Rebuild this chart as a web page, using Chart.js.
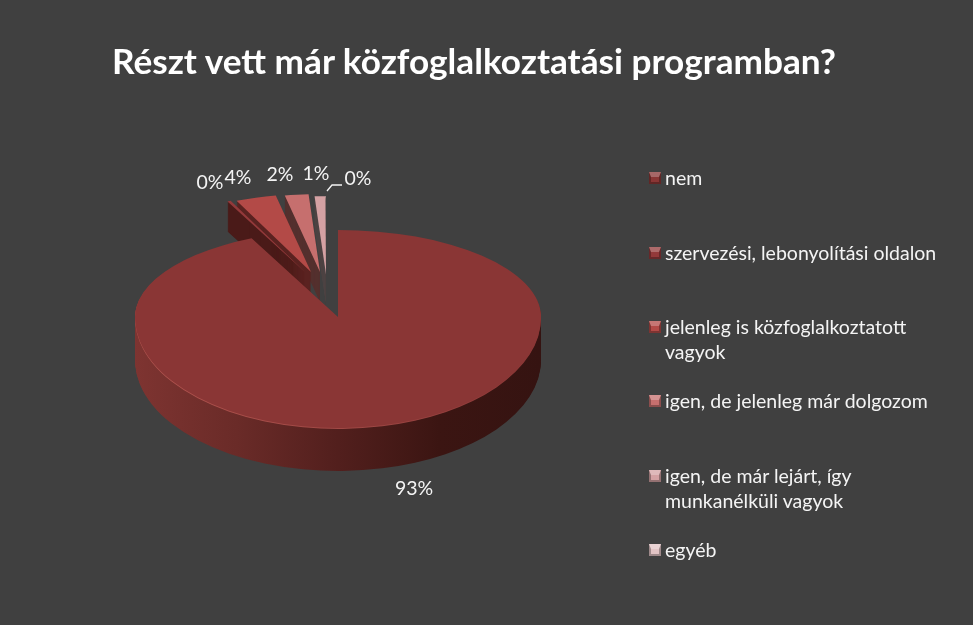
<!DOCTYPE html>
<html lang="hu">
<head>
<meta charset="utf-8">
<title>Részt vett már közfoglalkoztatási programban?</title>
<script src="https://cdn.jsdelivr.net/npm/chart.js@4"></script>
<style>
  html, body { margin: 0; padding: 0; background: #404040; }
  #wrap { position: relative; width: 973px; height: 625px; overflow: hidden; background: #404040; font-family: Lato, "Open Sans", sans-serif; color: #f4f4f4; }
  #chart { position: absolute; left: 0; top: 0; }
  #title { position: absolute; left: 112px; top: 40px; font-size: 35.2px; font-weight: 700; line-height: 40px; white-space: nowrap; color: #fff; }
  .leg { position: absolute; left: 665px; font-size: 19.5px; line-height: 25px; width: 290px; }
  .leg i { position: absolute; left: -16px; top: 7px; width: 12px; height: 12px; box-sizing: border-box; border-style: solid; border-width: 5px 2px 2px; }
</style>
</head>
<body>
<div id="wrap">
  <canvas id="chart" width="973" height="625"></canvas>
  <div id="title">Részt vett már közfoglalkoztatási programban?</div>
</div>
<script>
// ── 데이터 ──────────────────────────────────────────
const categories = [
  "nem",
  "szervezési, lebonyolítási oldalon",
  "jelenleg is közfoglalkoztatott vagyok",
  "igen, de jelenleg már dolgozom",
  "igen, de már lejárt, így munkanélküli vagyok",
  "egyéb",
];
const values = [93, 0.3, 3.6, 2.1, 0.95, 0.05];

const topColors  = ["#8a3635", "#93393a", "#b34a47", "#c66f6e", "#d4a1a3", "#e2c4c5"];
const wallColors = ["#5a2321", "#4a1a18", "#5a2220", "#54302e", "#4e4444", "#484444"];
const legendTops = [165, 240, 314, 388, 463, 537];
const labelSpots = [[210, 183], [238, 178], [280, 175], [316, 174], [358, 179]];
const bigLabelSpot = [414, 489];

// ── 유사 3D 파이 ─────────────────────────────────────
const squashTop = 87 / 203;
const squashBottom = 111 / 203;
const bigRadius = 203;
const smallRadius = 182;
const sliceShift = [[0, 0], [-33, -105], [-27, -105], [-18, -105], [-12, -100], [-12, -100]];
const bigDepth = 43;
const smallDepth = 30;

function paintArc(ctx, arc, fill, dy, shift) {
  const keep = arc.options;
  arc.options = { backgroundColor: fill, borderWidth: 0, borderRadius: 0, offset: 0, spacing: 0, circular: true, borderAlign: "center" };
  [[squashTop, 0, arc.y + dy], [squashBottom, arc.y + dy, 625]].forEach(([k, from, to]) => {
    ctx.save();
    ctx.beginPath();
    ctx.rect(0, from, 973, to - from);
    ctx.clip();
    ctx.translate(arc.x, arc.y + dy);
    ctx.scale(1, k);
    ctx.translate(-arc.x, -arc.y);
    ctx.translate(shift[0], shift[1]);
    arc.draw(ctx);
    ctx.restore();
  });
  arc.options = keep;
}

const pie3d = {
  id: "pie3d",
  beforeDatasetsDraw(chart) {
    const ctx = chart.ctx;
    const arcs = chart.getDatasetMeta(0).data;

    // 뒤쪽 작은 조각: 오른쪽부터
    for (let i = arcs.length - 1; i > 0; i--) {
      arcs[i].outerRadius = smallRadius;
      for (let d = smallDepth; d > 0; d--) paintArc(ctx, arcs[i], wallColors[i], d, sliceShift[i]);
      paintArc(ctx, arcs[i], topColors[i], 0, sliceShift[i]);
    }

    // 큰 조각
    const wall = ctx.createLinearGradient(135, 0, 541, 0);
    wall.addColorStop(0, "#7e3431");
    wall.addColorStop(0.25, "#6a2b28");
    wall.addColorStop(0.5, "#521f1d");
    wall.addColorStop(0.75, "#3b1512");
    wall.addColorStop(1, "#351311");
    for (let d = bigDepth; d > 0; d--) paintArc(ctx, arcs[0], wall, d, sliceShift[0]);
    const rim = ctx.createLinearGradient(135, 0, 541, 0);
    rim.addColorStop(0, "#b2544f");
    rim.addColorStop(0.6, "#9c4643");
    rim.addColorStop(1, "#8a3635");
    paintArc(ctx, arcs[0], rim, 1, sliceShift[0]);
    paintArc(ctx, arcs[0], topColors[0], 0, sliceShift[0]);

    // 퍼센트 라벨
    ctx.save();
    ctx.fillStyle = "#f4f4f4";
    ctx.font = "19.5px Lato, 'Open Sans', sans-serif";
    ctx.textAlign = "center";
    ctx.textBaseline = "middle";
    ctx.fillText(`${Math.round(values[0])}%`, bigLabelSpot[0], bigLabelSpot[1]);
    values.slice(1).forEach((v, i) => ctx.fillText(`${Math.round(v)}%`, labelSpots[i][0], labelSpots[i][1]));
    ctx.strokeStyle = "#f4f4f4";
    ctx.lineWidth = 1.3;
    ctx.beginPath();
    ctx.moveTo(327, 191);
    ctx.lineTo(332, 185);
    ctx.lineTo(342, 185);
    ctx.stroke();
    ctx.restore();
    return false;
  },
};

new Chart(document.getElementById("chart"), {
  type: "pie",
  data: {
    labels: categories,
    datasets: [{ data: values, backgroundColor: topColors, borderWidth: 0 }],
  },
  options: {
    responsive: false,
    animation: false,
    events: [],
    radius: bigRadius,
    layout: { padding: { left: 0, right: 297, top: 9, bottom: 0 } },
    plugins: { legend: { display: false }, tooltip: { enabled: false } },
  },
  plugins: [pie3d],
});

// ── 범례 ────────────────────────────────────────────
const wrap = document.getElementById("wrap");
categories.forEach((name, i) => {
  const row = document.createElement("div");
  row.className = "leg";
  row.style.top = `${legendTops[i]}px`;
  row.textContent = name;
  const mark = document.createElement("i");
  const side = `color-mix(in srgb, ${topColors[i]} 70%, #000)`;
  mark.style.backgroundColor = topColors[i];
  mark.style.borderColor = `color-mix(in srgb, ${topColors[i]} 75%, #fff) ${side} ${side} ${side}`;
  row.appendChild(mark);
  wrap.appendChild(row);
});
</script>
</body>
</html>
